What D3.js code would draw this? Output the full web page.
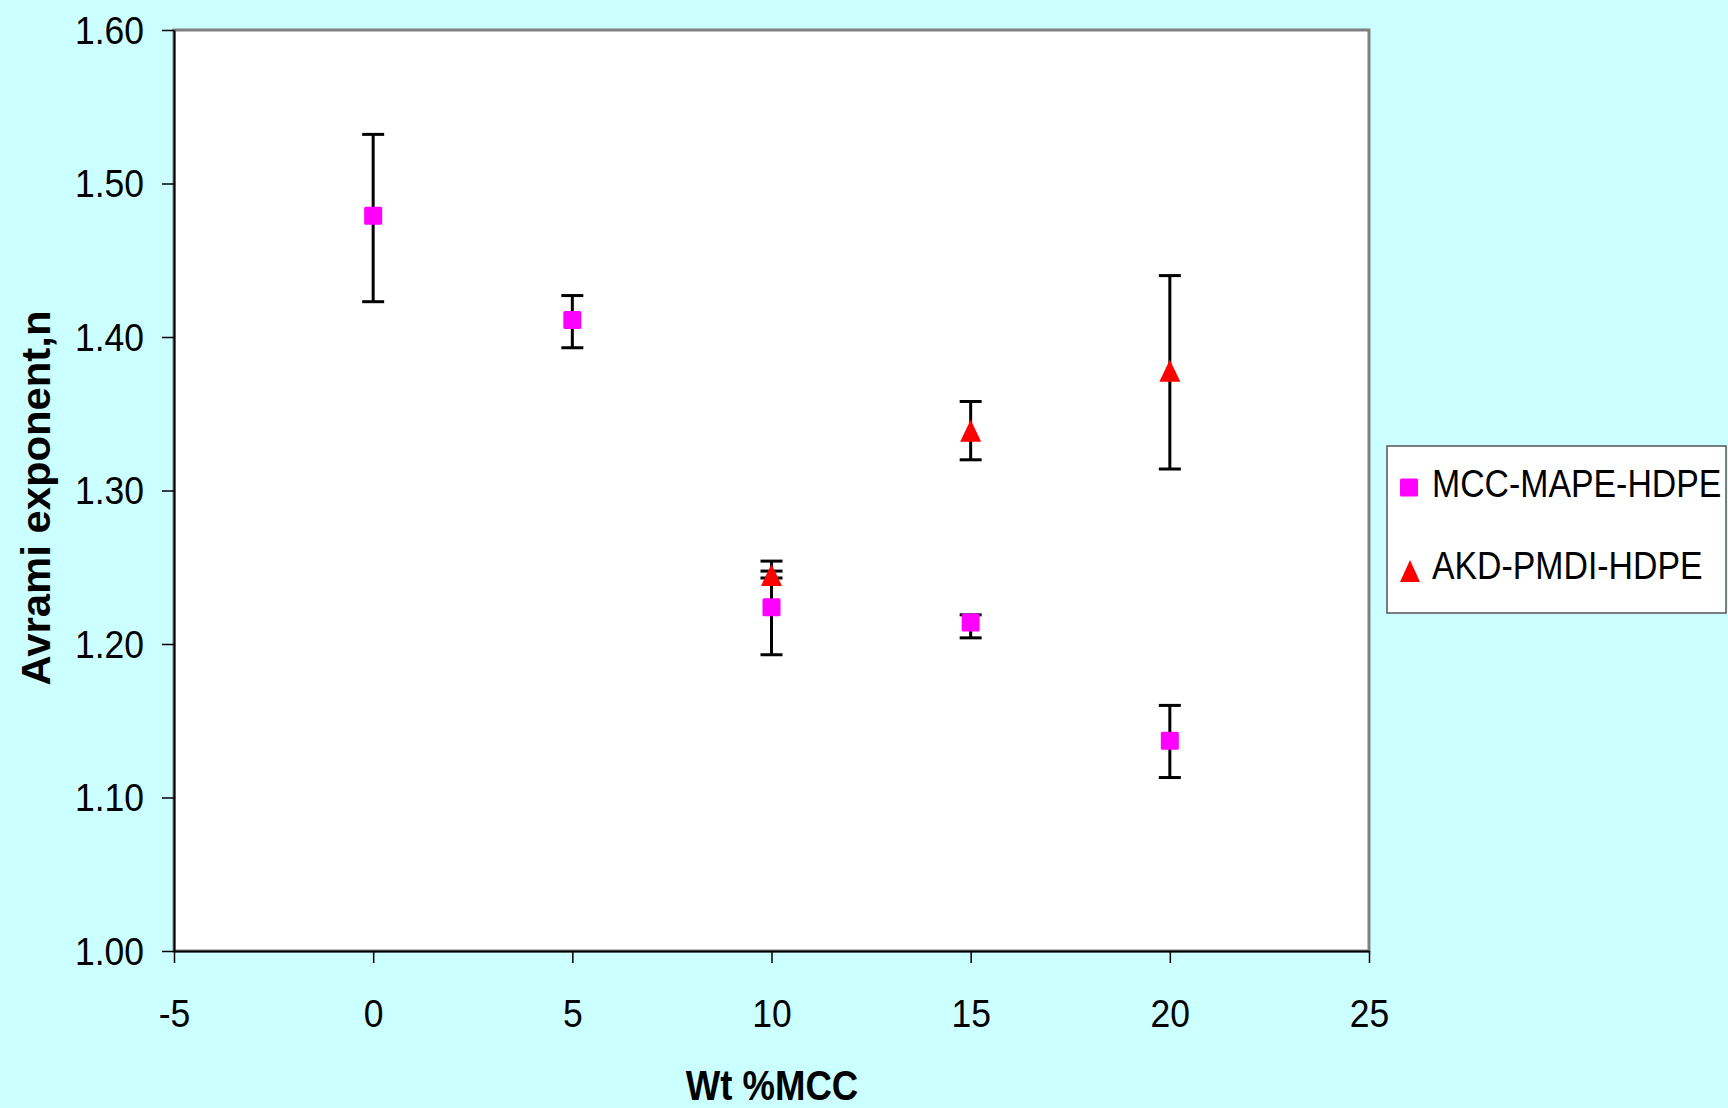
<!DOCTYPE html>
<html>
<head>
<meta charset="utf-8">
<script src="https://cdn.jsdelivr.net/npm/d3@7"></script>
<style>
  html, body { margin: 0; padding: 0; background: #CCFFFF; }
  svg { display: block; }
  text { font-family: "Liberation Sans", Arial, sans-serif; fill: #000; }
</style>
</head>
<body>
<svg id="chart" width="1728" height="1108"></svg>
<script>
// ---- Data ----
const seriesNames = ["MCC-MAPE-HDPE", "AKD-PMDI-HDPE"];
const mccX = [0, 5, 10, 15, 20];
const mccY = [1.479, 1.411, 1.224, 1.214, 1.137];
const mccErrPlus = [0.053, 0.016, 0.030, 0.005, 0.023];
const mccErrMinus = [0.056, 0.018, 0.031, 0.010, 0.024];
const akdX = [10, 15, 20];
const akdY = [1.245, 1.339, 1.378];
const akdErrPlus = [0.0025, 0.019, 0.062];
const akdErrMinus = [0.002, 0.019, 0.064];
const xTicks = [-5, 0, 5, 10, 15, 20, 25];
const yTicks = [1.00, 1.10, 1.20, 1.30, 1.40, 1.50, 1.60];
const xTitle = "Wt %MCC";
const yTitle = "Avrami exponent,n";

// ---- Layout ----
const plot = { left: 174, right: 1369, top: 30, bottom: 951 };
const svg = d3.select("#chart");

const x = d3.scaleLinear().domain([-5, 25]).range([plot.left, plot.right]);
const y = d3.scaleLinear().domain([1.0, 1.6]).range([plot.bottom, plot.top]);

// plot area
svg.append("rect")
  .attr("x", plot.left).attr("y", plot.top)
  .attr("width", plot.right - plot.left).attr("height", plot.bottom - plot.top)
  .attr("fill", "#FFFFFF").attr("stroke", "#808080").attr("stroke-width", 3);

// axes
const tickFont = '"Liberation Sans", Arial, sans-serif';
const tickSqueeze = 0.91;
const yAxis = d3.axisLeft(y).tickValues(yTicks).tickFormat(d3.format(".2f"))
  .tickSizeInner(12).tickSizeOuter(0).tickPadding(18);
const gy = svg.append("g").attr("transform", `translate(${plot.left},0)`).call(yAxis);
gy.select(".domain").attr("stroke", "#000").attr("stroke-width", 2);
gy.selectAll(".tick line").attr("stroke", "#000").attr("stroke-width", 1.5);
gy.selectAll(".tick text").attr("font-size", 39).style("font-family", tickFont)
  .attr("fill", "#000").attr("dy", "0.34em")
  .attr("x", -30 / tickSqueeze)
  .attr("transform", `scale(${tickSqueeze},1)`);

const xAxis = d3.axisBottom(x).tickValues(xTicks).tickFormat(d => String(d))
  .tickSizeInner(12).tickSizeOuter(0).tickPadding(0);
const gx = svg.append("g").attr("transform", `translate(0,${plot.bottom})`).call(xAxis);
gx.select(".domain").attr("stroke", "#000").attr("stroke-width", 2);
gx.selectAll(".tick line").attr("stroke", "#000").attr("stroke-width", 1.5);
gx.selectAll(".tick text").attr("font-size", 39).style("font-family", tickFont)
  .attr("fill", "#000").attr("y", 76).attr("dy", 0)
  .attr("transform", `scale(${tickSqueeze},1)`);

// axis titles
svg.append("text")
  .attr("transform", `translate(50,498) rotate(-90) scale(1.02,1)`)
  .attr("text-anchor", "middle").attr("font-size", 41).attr("font-weight", "bold")
  .text(yTitle);

svg.append("text")
  .attr("transform", `translate(772,1100) scale(0.87,1)`)
  .attr("text-anchor", "middle").attr("font-size", 42).attr("font-weight", "bold")
  .text(xTitle);

// data tables
const mcc = mccX.map((d, i) => ({ x: d, y: mccY[i], hi: mccY[i] + mccErrPlus[i], lo: mccY[i] - mccErrMinus[i] }));
const akd = akdX.map((d, i) => ({ x: d, y: akdY[i], hi: akdY[i] + akdErrPlus[i], lo: akdY[i] - akdErrMinus[i] }));

// error bars
const capHalf = 11;
function drawErr(data) {
  const g = svg.append("g").attr("stroke", "#000").attr("stroke-width", 3);
  data.forEach(d => {
    g.append("line").attr("x1", x(d.x)).attr("x2", x(d.x)).attr("y1", y(d.hi)).attr("y2", y(d.lo));
    g.append("line").attr("x1", x(d.x) - capHalf).attr("x2", x(d.x) + capHalf).attr("y1", y(d.hi)).attr("y2", y(d.hi));
    g.append("line").attr("x1", x(d.x) - capHalf).attr("x2", x(d.x) + capHalf).attr("y1", y(d.lo)).attr("y2", y(d.lo));
  });
}
drawErr(mcc);
drawErr(akd);

// markers
const sq = 18;
function trianglePath(cx, cy, w, h) {
  const p = d3.path();
  p.moveTo(cx, cy - h / 2);
  p.lineTo(cx + w / 2, cy + h / 2);
  p.lineTo(cx - w / 2, cy + h / 2);
  p.closePath();
  return p.toString();
}
svg.append("g").selectAll("rect").data(mcc).join("rect")
  .attr("x", d => x(d.x) - sq / 2).attr("y", d => y(d.y) - sq / 2)
  .attr("width", sq).attr("height", sq).attr("rx", 1.5)
  .attr("fill", "#FF00FF");
svg.append("g").selectAll("path").data(akd).join("path")
  .attr("d", d => trianglePath(x(d.x), y(d.y), 21, 22))
  .attr("fill", "#FF0000");

// legend
const lg = svg.append("g");
lg.append("rect").attr("x", 1387).attr("y", 446).attr("width", 339).attr("height", 167)
  .attr("fill", "#FFFFFF").attr("stroke", "#555555").attr("stroke-width", 1.5);
lg.append("rect").attr("x", 1400).attr("y", 478.5).attr("width", 18).attr("height", 18)
  .attr("rx", 1.5).attr("fill", "#FF00FF");
lg.append("path").attr("d", trianglePath(1410, 571, 20, 22)).attr("fill", "#FF0000");
lg.append("text").attr("transform", "translate(1432,497) scale(0.89,1)")
  .attr("font-size", 38).text(seriesNames[0]);
lg.append("text").attr("transform", "translate(1432,579) scale(0.89,1)")
  .attr("font-size", 38).text(seriesNames[1]);
</script>
</body>
</html>
